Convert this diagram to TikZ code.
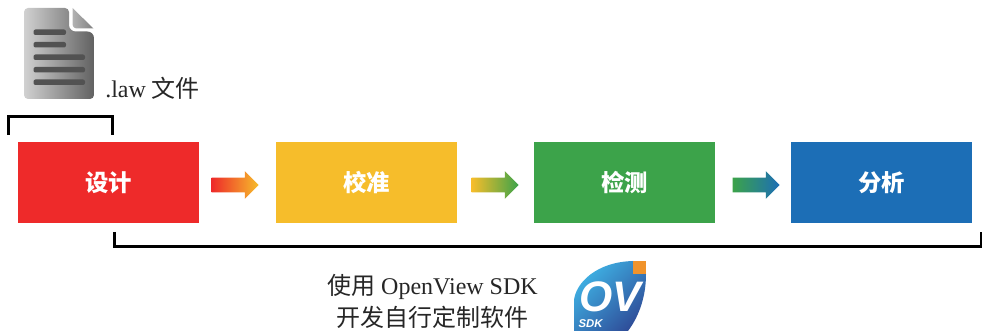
\documentclass[tikz,border=0pt]{standalone}
\usepackage{fontspec}
\usetikzlibrary{shapes.arrows}
\setmainfont{Liberation Serif}
\newfontfamily\cjk{Noto Sans CJK SC}
\newfontfamily\logofont{Liberation Sans}
\definecolor{cred}{HTML}{EE2A2A}
\definecolor{cyellow}{HTML}{F6BD2B}
\definecolor{cgreen}{HTML}{3CA34A}
\definecolor{cblue}{HTML}{1C6EB6}
\definecolor{logolight}{HTML}{3FB4E6}
\definecolor{logodark}{HTML}{2F4F9A}
\definecolor{logoorange}{HTML}{F0932B}
\newcommand{\stagelabel}[1]{\raisebox{1.5pt}{#1}}
\tikzset{
  stagebox/.style={minimum width=135.75pt,minimum height=60.75pt,inner sep=0pt,outer sep=0pt,text=white,font=\cjk\bfseries\fontsize{17.5}{20}\selectfont},
  flowarrow/.style={single arrow,single arrow head extend=4.9pt,single arrow tip angle=90,single arrow head indent=0pt,minimum height=35.25pt,inner sep=0pt,outer sep=0pt},
  bracketline/.style={line width=2.25pt,line cap=butt,line join=miter},
  caption/.style={text=black!85,inner sep=0pt,font=\fontsize{18}{23.2}\selectfont},
  docline/.style={fill=black!68,rounded corners=1.5pt}
}
\begin{document}
\begin{tikzpicture}[x=0.75pt,y=-0.75pt]
\useasboundingbox (0,0) rectangle (982,331);
% document icon
\shade[left color=black!18,right color=black!62,rounded corners=3pt]
  (24,8) -- (69,8) -- (69,20) [rounded corners=5pt] -- (69,31.5) -- (94,31.5) [rounded corners=3pt] -- (94,99) -- (24,99) -- cycle;
\shade[left color=black!30,right color=black!50]
  (72.5,8) -- (93.5,28.5) -- (78,28.5) .. controls (74,28.5) and (72.5,27) .. (72.5,23) -- cycle;
\fill[docline] (33.5,29.5) rectangle (66,35);
\fill[docline] (33.5,42) rectangle (66,47.5);
\fill[docline] (33.5,54.5) rectangle (85,60);
\fill[docline] (33.5,67) rectangle (85,72.5);
\fill[docline] (33.5,79.5) rectangle (85,85);
\node[caption,anchor=base west] (lawlabel) at (105,98) {.law {\cjk 文件}};
% stages
\node[stagebox,fill=cred] (design) at (108.5,182.5) {\stagelabel{设计}};
\node[stagebox,fill=cyellow] (calib) at (366.5,182.5) {\stagelabel{校准}};
\node[stagebox,fill=cgreen] (detect) at (624.5,182.5) {\stagelabel{检测}};
\node[stagebox,fill=cblue] (analyse) at (881.5,182.5) {\stagelabel{分析}};
% arrows
\node[flowarrow,left color=cred,right color=cyellow] (a1) at (231.5,185) {\rule{0pt}{10.5pt}};
\node[flowarrow,left color=cyellow,right color=cgreen] (a2) at (491.5,185) {\rule{0pt}{10.5pt}};
\node[flowarrow,left color=cgreen,right color=cblue] (a3) at (752.5,185) {\rule{0pt}{10.5pt}};
% brackets
\coordinate (tl) at (8,135);
\coordinate (tr) at (112.5,135);
\draw[bracketline] (tl) |- (60,116.5) -| (tr);
\coordinate (bl) at (114.5,232);
\coordinate (br) at (981,232);
\draw[bracketline] (bl) |- (500,247) -| (br);
% caption
\node[caption,align=center,anchor=north] (sdklabel) at (432.5,274) {{\cjk 使用} OpenView SDK\\[1pt]{\cjk 开发自行定制软件}};
% logo
\shade[left color=logolight,right color=logodark,shading angle=45]
  (574,331) -- (574,300) .. controls (576,283) and (596,262) .. (633,261)
  -- (633,274) -- (646,274) .. controls (646,295) and (640,315) .. (628,331) -- cycle;
\fill[logoorange] (633,261) rectangle (646,274);
\node[inner sep=0pt,text=white,font=\logofont\bfseries\itshape\fontsize{32}{32}\selectfont] (ov) at (610,296.5) {OV};
\node[inner sep=0pt,text=white,font=\logofont\bfseries\itshape\fontsize{8.5}{8.5}\selectfont] (sdk) at (590.5,323.5) {SDK};
\end{tikzpicture}
\end{document}
